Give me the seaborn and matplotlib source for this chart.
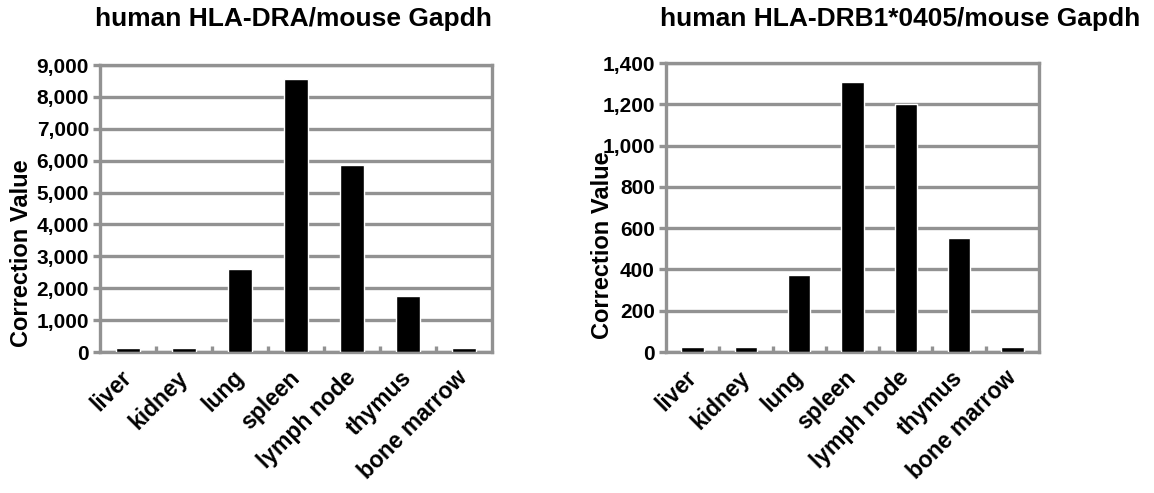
import numpy as np
import pandas as pd
import matplotlib
matplotlib.use("Agg")
import matplotlib.pyplot as plt
import matplotlib.transforms as mtransforms
import seaborn as sns

# tissues and correction values
tissues = ["liver", "kidney", "lung", "spleen", "lymph node", "thymus", "bone marrow"]
dra_values = [140, 140, 2600, 8550, 5850, 1750, 140]
drb1_values = [22, 22, 375, 1310, 1200, 550, 22]

sns.set_theme(style="white")
plt.rcParams["font.family"] = ["Liberation Sans", "DejaVu Sans"]
plt.rcParams["font.weight"] = "bold"
plt.rcParams["text.color"] = "black"
plt.rcParams["axes.labelcolor"] = "black"
plt.rcParams["xtick.labelcolor"] = "black"
plt.rcParams["ytick.labelcolor"] = "black"

gray = "#929292"

fig = plt.figure(figsize=(11.54, 4.93), dpi=100)
ax1 = fig.add_axes([100 / 1154, 1 - 352 / 493, 392 / 1154, 287 / 493])
ax2 = fig.add_axes([666 / 1154, 1 - 352 / 493, 373 / 1154, 289 / 493])


def draw(ax, values, ymax, step, label_x, label_y):
    df = pd.DataFrame({"tissue": tissues, "value": values})
    sns.barplot(data=df, x="tissue", y="value", color="black", width=0.42,
                saturation=1, ax=ax, zorder=3)
    ax.set_ylim(0, ymax)
    ax.set_xlim(-0.5, len(tissues) - 0.5)
    ticks = np.arange(0, ymax + 1, step)
    ax.set_yticks(ticks)
    ax.set_yticklabels([f"{v:,}" for v in ticks], fontsize=15, fontweight="bold",
                       color="black")
    ax.yaxis.grid(True, color=gray, linewidth=2.4, zorder=0)
    ax.set_axisbelow(True)
    for s in ax.spines.values():
        s.set_color(gray)
        s.set_linewidth(2.4)
    ax.set_xticks(range(len(tissues)))
    ax.set_xticklabels(tissues, rotation=45, ha="right", va="center",
                       rotation_mode="anchor", fontsize=16.5, fontweight="bold",
                       color="black")
    offset = mtransforms.ScaledTranslation(14 / 100, 0, fig.dpi_scale_trans)
    for lab in ax.get_xticklabels():
        lab.set_transform(lab.get_transform() + offset)
    ax.set_xticks(np.arange(0.5, len(tissues) - 1, 1), minor=True)
    ax.tick_params(axis="x", which="major", length=0, pad=16)
    ax.tick_params(axis="x", which="minor", length=4, width=2.4, color=gray,
                   direction="in", bottom=True)
    ax.tick_params(axis="y", length=5, width=2.4, color=gray, left=True, pad=3)
    ax.set_xlabel("")
    ax.set_ylabel("Correction Value", fontsize=17, fontweight="bold", color="black")
    ax.yaxis.set_label_coords(label_x, label_y)


draw(ax1, dra_values, 9000, 1000, -0.17, 0.345)
draw(ax2, drb1_values, 1400, 200, -0.14, 0.37)

fig.text(293 / 1154, 1 - 19 / 493, "human HLA-DRA/mouse Gapdh",
         fontsize=19, fontweight="bold", ha="center", va="center", color="black")
fig.text(900 / 1154, 1 - 19 / 493, "human HLA-DRB1*0405/mouse Gapdh",
         fontsize=19, fontweight="bold", ha="center", va="center", color="black")

fig.savefig("out.png", dpi=100)
